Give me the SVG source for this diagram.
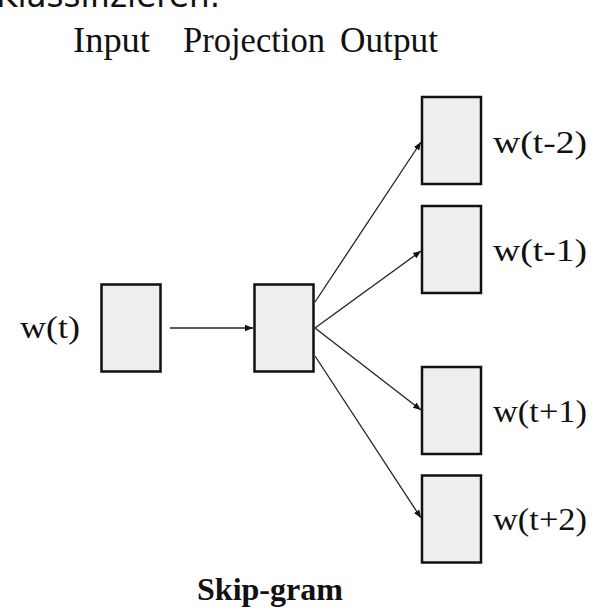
<svg xmlns="http://www.w3.org/2000/svg" width="595" height="612" viewBox="0 0 595 612">
<style>
.box{fill:#eeeeee;stroke:#111;stroke-width:2.5}
.lbl{font-family:"Liberation Serif",serif;font-size:31px;fill:#111}
.hdr{font-family:"Liberation Serif",serif;font-size:35px;fill:#111}
.edge{stroke:#222;stroke-width:1.3;fill:none;marker-end:url(#ah)}
</style>
<defs>
<marker id="ah" viewBox="0 0 10 10" refX="10" refY="5" markerWidth="8" markerHeight="8" markerUnits="userSpaceOnUse" orient="auto">
<path d="M0,1 L10,5 L0,9 z" fill="#111"/>
</marker>
</defs>
<rect width="595" height="612" fill="#fff"/>
<text x="-4" y="7" font-family="DejaVu Sans,sans-serif" font-size="33" fill="#111" textLength="224" lengthAdjust="spacingAndGlyphs">Klassifizieren.</text>
<g id="headers">
<text class="hdr" x="73" y="52" textLength="77" lengthAdjust="spacingAndGlyphs">Input</text>
<text class="hdr" x="183" y="52" textLength="142" lengthAdjust="spacingAndGlyphs">Projection</text>
<text class="hdr" x="340" y="52" textLength="98" lengthAdjust="spacingAndGlyphs">Output</text>
</g>
<g id="input">
<rect class="box" x="101.5" y="284.5" width="59" height="87"/>
<text class="lbl" x="20" y="338" textLength="60" lengthAdjust="spacingAndGlyphs">w(t)</text>
</g>
<g id="projection">
<rect class="box" x="254.5" y="284.5" width="59" height="87"/>
</g>
<g id="out-t-2">
<rect class="box" x="422" y="97" width="59" height="87"/>
<text class="lbl" x="493" y="153" textLength="94" lengthAdjust="spacingAndGlyphs">w(t-2)</text>
</g>
<g id="out-t-1">
<rect class="box" x="422" y="206" width="59" height="87"/>
<text class="lbl" x="493" y="261" textLength="94" lengthAdjust="spacingAndGlyphs">w(t-1)</text>
</g>
<g id="out-t+1">
<rect class="box" x="422" y="367" width="59" height="87"/>
<text class="lbl" x="493" y="422" textLength="94" lengthAdjust="spacingAndGlyphs">w(t+1)</text>
</g>
<g id="out-t+2">
<rect class="box" x="422" y="475.5" width="59" height="87"/>
<text class="lbl" x="493" y="530" textLength="94" lengthAdjust="spacingAndGlyphs">w(t+2)</text>
</g>
<g id="connectors">
<line class="edge" x1="170" y1="328" x2="253" y2="328"/>
<line class="edge" x1="315" y1="302" x2="421" y2="142"/>
<line class="edge" x1="315" y1="328" x2="421" y2="251"/>
<line class="edge" x1="315" y1="328" x2="421" y2="410"/>
<line class="edge" x1="315" y1="356" x2="421" y2="518"/>
</g>
<text x="197" y="600" font-family="Liberation Serif,serif" font-weight="bold" font-size="31" fill="#111" textLength="146" lengthAdjust="spacingAndGlyphs">Skip-gram</text>
</svg>
